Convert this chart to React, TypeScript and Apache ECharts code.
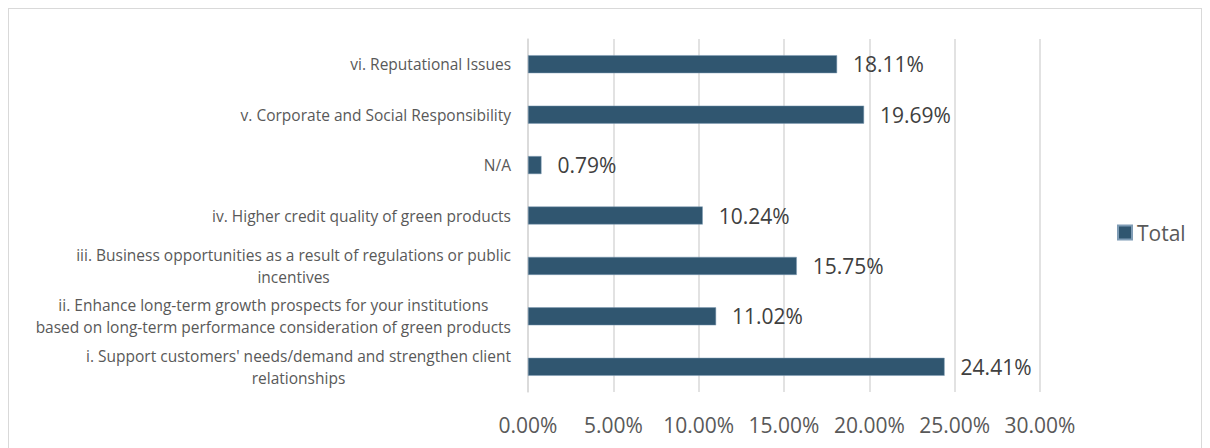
import React, { useEffect, useRef } from "react";
import * as echarts from "echarts";

const categories: string[] = [
  "i. Support customers' needs/demand and strengthen client\nrelationships",
  "ii. Enhance long-term growth prospects for your institutions\nbased on long-term performance consideration of green products",
  "iii. Business opportunities as a result of regulations or public\nincentives",
  "iv. Higher credit quality of green products",
  "N/A",
  "v. Corporate and Social Responsibility",
  "vi. Reputational Issues",
];
const totalValues: number[] = [24.41, 11.02, 15.75, 10.24, 0.79, 19.69, 18.11];
const seriesName = "Total";
const axisMin = 0;
const axisMax = 30;
const axisInterval = 5;

const FONT = "'Open Sans', 'Noto Sans', sans-serif";

export default function App() {
  const ref = useRef<HTMLDivElement>(null);
  useEffect(() => {
    if (!ref.current) return;
    const chart = echarts.init(ref.current, undefined, { renderer: "svg" });
    chart.setOption({
      animation: false,
      backgroundColor: "transparent",
      textStyle: { fontFamily: FONT },
      grid: { left: 528, right: 170, top: 39, bottom: 56, containLabel: false },
      legend: {
        show: true,
        data: [seriesName],
        orient: "vertical",
        left: 1117,
        top: 222,
        padding: 0,
        icon: "rect",
        itemWidth: 14,
        itemHeight: 14,
        itemGap: 6,
        textStyle: { fontSize: 21, color: "#595959", fontFamily: FONT },
      },
      xAxis: {
        type: "value",
        min: axisMin,
        max: axisMax,
        interval: axisInterval,
        axisLine: { show: false },
        axisTick: { show: false },
        splitLine: { show: true, lineStyle: { color: "#d9d9d9", width: 1.5 } },
        axisLabel: {
          margin: 22,
          fontSize: 21,
          color: "#595959",
          fontFamily: FONT,
          formatter: (v: number) => v.toFixed(2) + "%",
        },
      },
      yAxis: {
        type: "category",
        data: categories,
        axisLine: { show: true, lineStyle: { color: "#d9d9d9", width: 1.5 } },
        axisTick: { show: false },
        splitLine: { show: false },
        axisLabel: {
          interval: 0,
          margin: 17,
          fontSize: 15.5,
          lineHeight: 22,
          color: "#595959",
          fontFamily: FONT,
          formatter: (v: string) =>
            v
              .split("\n")
              .map((l) => "{c|" + l + "}")
              .join("\n"),
          rich: {
            c: { align: "center", fontSize: 15.5, lineHeight: 22, color: "#595959", fontFamily: FONT },
          },
        },
      },
      series: [
        {
          name: seriesName,
          type: "bar",
          data: totalValues,
          barWidth: 18,
          itemStyle: { color: "#305670", borderColor: "#7f9cb5", borderWidth: 0.5 },
          label: {
            show: true,
            position: "right",
            distance: 16,
            fontSize: 21,
            color: "#404040",
            fontFamily: FONT,
            formatter: (p: any) => Number(p.value).toFixed(2) + "%",
          },
        },
      ],
    });
    return () => chart.dispose();
  }, []);
  return (
    <div style={{ position: "fixed", left: 0, top: 0, width: 1210, height: 448, background: "#fff" }}>
      <div
        style={{
          position: "absolute",
          left: 8,
          top: 8,
          width: 1194,
          height: 460,
          border: "1px solid #d9d9d9",
          boxSizing: "border-box",
        }}
      />
      <div ref={ref} style={{ position: "absolute", left: 0, top: 0, width: 1210, height: 448 }} />
    </div>
  );
}
